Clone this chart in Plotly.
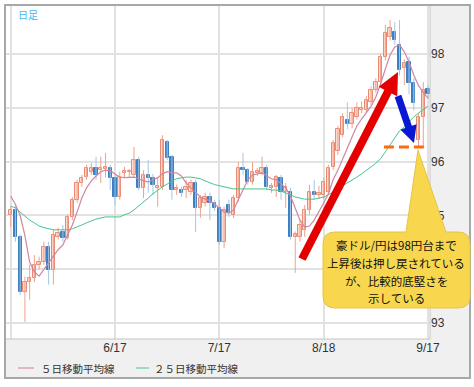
import plotly.graph_objects as go
import numpy as np

# ---------------- data ----------------
OPEN = [95.01, 95.10, 94.60, 93.58, 93.76, 93.84, 94.08, 94.13, 94.41, 93.99,
        94.60, 94.69, 94.58, 94.97, 95.29, 95.60, 95.71, 95.81, 95.88, 95.84,
        95.86, 95.88, 95.70, 95.34, 95.79, 95.80, 95.75, 96.03, 95.51, 95.75,
        95.70, 95.51, 95.53, 96.36, 96.09, 95.47, 95.47, 95.47, 95.43, 95.60,
        95.14, 95.23, 95.34, 95.23, 95.14, 94.51, 95.19, 95.01, 95.32, 95.88,
        95.84, 95.62, 95.79, 95.79, 95.88, 95.51, 95.53, 95.70, 95.43, 95.43,
        94.60, 94.60, 94.73, 95.10, 95.43, 95.38, 95.38, 95.43, 95.90, 96.20,
        96.50, 96.78, 96.70, 96.83, 96.95, 96.95, 97.10, 97.33, 97.48, 97.94,
        98.32, 98.41, 98.17, 97.74, 97.85, 97.46, 96.40, 96.83, 97.35]
HIGH = [95.16, 95.19, 94.64, 93.86, 94.08, 94.26, 94.23, 94.51, 94.51, 94.73,
        94.77, 94.82, 95.01, 95.34, 95.66, 95.75, 95.94, 95.97, 96.09, 96.09,
        96.16, 95.94, 95.75, 95.81, 95.90, 95.86, 96.27, 96.09, 95.84, 96.03,
        95.77, 95.71, 96.49, 96.40, 96.12, 95.57, 95.53, 95.66, 95.66, 95.66,
        95.38, 95.42, 95.42, 95.29, 95.29, 95.16, 95.29, 95.38, 95.99, 96.16,
        95.88, 95.99, 95.88, 96.09, 95.94, 95.60, 95.75, 95.75, 95.60, 95.51,
        94.70, 94.91, 95.19, 95.57, 95.66, 95.55, 95.70, 95.94, 96.40, 96.66,
        96.90, 97.10, 97.00, 97.10, 97.12, 97.22, 97.40, 97.55, 98.00, 98.54,
        98.63, 98.59, 98.63, 97.90, 97.95, 97.55, 96.90, 97.48, 97.42]
LOW = [94.78, 94.51, 93.52, 93.02, 93.43, 93.76, 93.99, 94.08, 93.71, 93.71,
       94.55, 94.51, 94.55, 94.91, 95.23, 95.53, 95.66, 95.75, 95.66, 95.60,
       95.70, 95.47, 95.19, 95.29, 95.70, 95.70, 95.70, 95.47, 95.32, 95.42,
       95.38, 95.16, 95.47, 96.03, 95.29, 95.38, 95.34, 95.32, 95.38, 94.69,
       94.95, 95.16, 94.91, 95.08, 94.45, 94.39, 94.97, 94.95, 95.25, 95.75,
       95.57, 95.57, 95.73, 95.75, 95.47, 95.42, 95.34, 95.29, 95.14, 94.55,
       93.93, 94.51, 94.60, 95.01, 95.29, 95.30, 95.30, 95.38, 95.84, 96.12,
       96.45, 96.60, 96.62, 96.78, 96.90, 96.90, 97.05, 97.28, 97.42, 97.88,
       98.25, 98.17, 97.60, 97.42, 97.25, 96.95, 96.29, 96.29, 97.16]
CLOSE = [95.10, 94.60, 93.58, 93.76, 93.84, 94.08, 94.13, 94.41, 93.99, 94.64,
         94.67, 94.58, 94.97, 95.29, 95.60, 95.70, 95.88, 95.88, 95.75, 95.88,
         95.89, 95.70, 95.34, 95.71, 95.81, 95.82, 96.03, 95.51, 95.75, 95.70,
         95.57, 95.53, 96.40, 96.07, 95.47, 95.51, 95.42, 95.53, 95.60, 95.14,
         95.32, 95.34, 95.23, 95.14, 94.51, 95.10, 95.04, 95.32, 95.88, 95.84,
         95.62, 95.81, 95.81, 95.88, 95.53, 95.53, 95.71, 95.43, 95.53, 94.60,
         94.65, 94.82, 95.10, 95.43, 95.38, 95.42, 95.62, 95.88, 96.35, 96.60,
         96.83, 96.70, 96.90, 97.00, 97.00, 97.15, 97.33, 97.48, 97.94, 98.39,
         98.48, 98.26, 97.70, 97.83, 97.46, 97.09, 96.83, 97.33, 97.26]
MA5 = [95.36, 95.20, 95.00, 94.62, 94.13, 93.95, 93.87, 93.99, 94.10, 94.23,
       94.36, 94.45, 94.62, 94.82, 95.06, 95.32, 95.51, 95.64, 95.73, 95.81,
       95.84, 95.83, 95.77, 95.71, 95.70, 95.70, 95.71, 95.68, 95.64, 95.62,
       95.66, 95.70, 95.77, 95.81, 95.79, 95.79, 95.73, 95.60, 95.51, 95.42,
       95.34, 95.30, 95.27, 95.21, 95.14, 95.06, 95.04, 95.10, 95.29, 95.47,
       95.66, 95.75, 95.77, 95.79, 95.73, 95.68, 95.66, 95.58, 95.51, 95.36,
       95.14, 94.91, 94.78, 94.80, 94.91, 95.06, 95.23, 95.40, 95.66, 95.84,
       96.03, 96.25, 96.46, 96.66, 96.79, 96.90, 97.03, 97.20, 97.44, 97.72,
       97.98, 98.13, 98.17, 98.04, 97.85, 97.61, 97.41, 97.28, 97.18]
MA25 = [95.17, 95.14, 95.06, 94.99, 94.91, 94.86, 94.80, 94.77, 94.75, 94.73,
        94.73, 94.73, 94.73, 94.75, 94.78, 94.82, 94.86, 94.90, 94.93, 94.95,
        94.97, 94.97, 94.97, 94.97, 95.01, 95.04, 95.10, 95.17, 95.25, 95.32,
        95.40, 95.47, 95.53, 95.58, 95.64, 95.68, 95.70, 95.71, 95.71, 95.70,
        95.68, 95.64, 95.60, 95.57, 95.55, 95.53, 95.51, 95.49, 95.49, 95.49,
        95.49, 95.49, 95.49, 95.49, 95.49, 95.47, 95.47, 95.45, 95.42, 95.38,
        95.34, 95.32, 95.30, 95.30, 95.30, 95.32, 95.34, 95.38, 95.43, 95.49,
        95.55, 95.60, 95.66, 95.71, 95.77, 95.83, 95.90, 95.97, 96.05, 96.18,
        96.31, 96.46, 96.57, 96.64, 96.74, 96.83, 96.90, 96.96, 97.03]
TICK_IDX = [0, 22, 44, 66, 88]
TICK_LABELS = ["", "6/17", "7/17", "8/18", "9/17"]
Y_TICKS = [93, 94, 95, 96, 97, 98]
Y_LABELS = ["93", "", "95", "96", "97", "98"]   # 94 is hidden behind the callout
SUPPORT = 96.27
LEGEND_LABELS = ["５日移動平均線", "２５日移動平均線"]
NOTE_LINES = ["豪ドル/円は98円台まで", "上昇後は押し戻されている", "が、比較的底堅さを", "示している"]

# ---------------- figure ----------------
W, H = 474, 387
PX0, PX1, PY0, PY1 = 5, 430, 5, 339  # plot area in pixels


def P(px, py):
    return ((px - PX0) / (PX1 - PX0), (PY1 - py) / (PY1 - PY0))


def path_from(points, close=True):
    s = ""
    for k, (a, b) in enumerate(points):
        x, y = P(a, b)
        s += ("M" if k == 0 else "L") + f"{x:.5f},{y:.5f} "
    return s + ("Z" if close else "")


def arrow_path(tail, tip, w, hw, hl):
    t = np.array(tail, float)
    p = np.array(tip, float)
    d = p - t
    u = d / np.linalg.norm(d)
    n = np.array([-u[1], u[0]])
    b = p - u * hl
    pts = [t + n * w / 2, b + n * w / 2, b + n * hw / 2, p, b - n * hw / 2, b - n * w / 2, t - n * w / 2]
    return path_from([tuple(q) for q in pts])


x = list(range(len(OPEN)))
up = [c >= o for o, c in zip(OPEN, CLOSE)]

fig = go.Figure()

# wicks
for is_up, col in [(True, "#f0a08c"), (False, "#a3c6e6")]:
    wx, wy = [], []
    for i in x:
        if up[i] == is_up:
            wx += [i, i, None]
            wy += [LOW[i], HIGH[i], None]
    fig.add_trace(go.Scatter(x=wx, y=wy, mode="lines", line=dict(color=col, width=1),
                             hoverinfo="skip", showlegend=False))

# bodies
for is_up, fill, edge in [(True, "#fcdcd0", "#ea8a72"), (False, "#3d80c2", "#3d80c2")]:
    bx, bb, bh = [], [], []
    for i in x:
        if up[i] == is_up:
            lo, hi = min(OPEN[i], CLOSE[i]), max(OPEN[i], CLOSE[i])
            bx.append(i)
            bb.append(lo)
            bh.append(max(hi - lo, 0.03))
    fig.add_trace(go.Bar(x=bx, y=bh, base=bb, width=0.7,
                         marker=dict(color=fill, line=dict(color=edge, width=1)),
                         showlegend=False))

fig.add_trace(go.Scatter(x=x, y=MA25, mode="lines", line=dict(color="#47c48a", width=1),
                         name=LEGEND_LABELS[1], showlegend=False))
fig.add_trace(go.Scatter(x=x, y=MA5, mode="lines", line=dict(color="#cf86a2", width=1.2),
                         name=LEGEND_LABELS[0], showlegend=False))

shapes = []
RIGHT, BOTTOM = 470, 378
# gray panels
x0, y0 = P(PX1, PY1)
x1, y1 = P(RIGHT, PY0)
shapes.append(dict(type="rect", xref="paper", yref="paper", x0=x0, x1=x1, y0=y0, y1=y1,
                   fillcolor="#f0f0f0", line=dict(width=0), layer="below"))
x0, y0 = P(PX0, BOTTOM)
x1, y1 = P(RIGHT, PY1)
shapes.append(dict(type="rect", xref="paper", yref="paper", x0=x0, x1=x1, y0=y0, y1=y1,
                   fillcolor="#f0f0f0", line=dict(width=0), layer="below"))
# plot borders
shapes.append(dict(type="line", xref="paper", yref="paper", x0=1, x1=1, y0=0, y1=1,
                   line=dict(color="#c4c4c4", width=1)))
shapes.append(dict(type="line", xref="paper", yref="paper", x0=0, x1=1, y0=0, y1=0,
                   line=dict(color="#c4c4c4", width=1)))
shapes.append(dict(type="line", xref="paper", yref="paper", x0=0, x1=0, y0=0, y1=1,
                   line=dict(color="#a8a8a8", width=2)))
# outer frame
x0, y0 = P(PX0, BOTTOM)
x1, y1 = P(RIGHT, PY0)
shapes.append(dict(type="rect", xref="paper", yref="paper", x0=x0, x1=x1, y0=y0, y1=y1,
                   fillcolor="rgba(0,0,0,0)", line=dict(color="#a8a8a8", width=2)))

# support line
shapes.append(dict(type="line", xref="x", yref="y", x0=78.7, x1=88.0, y0=SUPPORT, y1=SUPPORT,
                   line=dict(color="#ff6a10", width=3, dash="10px,5px")))
# arrows
shapes.append(dict(type="path", xref="paper", yref="paper",
                   path=arrow_path((302, 259), (398, 72), 8, 21, 22),
                   fillcolor="#e40000", line=dict(width=0)))
shapes.append(dict(type="path", xref="paper", yref="paper",
                   path=arrow_path((398, 96), (414, 143), 7, 17, 17),
                   fillcolor="#0a18d4", line=dict(width=0)))

# callout
L, R, T, B, r = 323, 470, 232, 308, 12


def Q(px, py):
    a, b = P(px, py)
    return f"{a:.5f},{b:.5f}"


cp = (f"M{Q(L + r, T)} L{Q(406, T)} L{Q(418, 150)} L{Q(446, T)} L{Q(R - r, T)} "
      f"Q{Q(R, T)} {Q(R, T + r)} L{Q(R, B - r)} Q{Q(R, B)} {Q(R - r, B)} "
      f"L{Q(L + r, B)} Q{Q(L, B)} {Q(L, B - r)} L{Q(L, T + r)} Q{Q(L, T)} {Q(L + r, T)} Z")
shapes.append(dict(type="path", xref="paper", yref="paper", path=cp,
                   fillcolor="#f8d74e", line=dict(color="#e8c445", width=1), layer="above"))

# legend line samples
for (lx0, lx1), col in [((18, 34), "#e07a92"), ((136, 149), "#47c48a")]:
    a0, b0 = P(lx0, 368)
    a1, _ = P(lx1, 368)
    shapes.append(dict(type="line", xref="paper", yref="paper", x0=a0, x1=a1, y0=b0, y1=b0,
                       line=dict(color=col, width=1)))

annotations = []
JP = "Noto Sans CJK JP"
for k, line in enumerate(NOTE_LINES):
    a, b = P(396, 245 + k * 17.8)
    annotations.append(dict(xref="paper", yref="paper", x=a, y=b, text=line, showarrow=False,
                            xanchor="center", yanchor="middle",
                            font=dict(family=JP, size=11.5, color="#111")))
a, b = P(16, 14)
annotations.append(dict(xref="paper", yref="paper", x=a, y=b, text="日足", showarrow=False,
                        xanchor="left", yanchor="middle", font=dict(family=JP, size=10, color="#45b8f0")))
for lx, lab in [(39, LEGEND_LABELS[0]), (152, LEGEND_LABELS[1])]:
    a, b = P(lx, 368)
    annotations.append(dict(xref="paper", yref="paper", x=a, y=b, text=lab, showarrow=False,
                            xanchor="left", yanchor="middle",
                            font=dict(family=JP, size=10.5, color="#333")))

fig.update_layout(
    width=W, height=H,
    margin=dict(l=PX0, r=W - PX1, t=PY0, b=H - PY1, pad=0),
    paper_bgcolor="white", plot_bgcolor="white",
    showlegend=False, bargap=0, hovermode=False,
    shapes=shapes, annotations=annotations,
    xaxis=dict(range=[-1.2, 88.42], tickvals=TICK_IDX, ticktext=TICK_LABELS,
               showgrid=True, gridcolor="#e2e2e2", gridwidth=2, zeroline=False,
               showline=False, ticks="", automargin=False,
               tickfont=dict(family="Liberation Sans", size=12, color="#333"), fixedrange=True),
    yaxis=dict(range=[92.70, 98.91], tickvals=Y_TICKS, ticktext=Y_LABELS, side="right",
               showgrid=True, gridcolor="#e2e2e2", gridwidth=2, zeroline=False,
               showline=False, ticks="", automargin=False,
               tickfont=dict(family="Liberation Sans", size=12, color="#333"), fixedrange=True),
)

fig.write_html("out.html", config={"displayModeBar": False},
               post_script="document.body.style.margin='0px';")
